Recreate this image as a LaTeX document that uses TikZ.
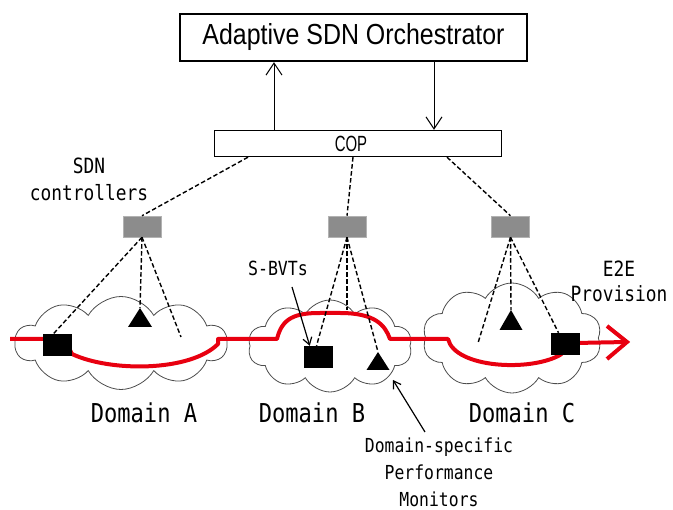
\documentclass[tikz,border=0pt]{standalone}
\usepackage{fontspec}
\usetikzlibrary{shapes.symbols,arrows.meta,calc}
\newfontfamily\gmono[FakeStretch=0.85]{DejaVu Sans Mono}
\newfontfamily\nsans[FakeStretch=0.86]{Liberation Sans}
\newfontfamily\csans[FakeStretch=0.68]{Liberation Sans}
\definecolor{e2ered}{RGB}{232,0,16}
\definecolor{ctrlgray}{RGB}{140,140,140}
\begin{document}
\begin{tikzpicture}[x=1pt,y=-1pt,
  cloudshape/.style={cloud, cloud puffs=10, cloud puff arc=120, cloud ignores aspect,
     draw=black!70, line width=0.8pt, fill=white, inner sep=0pt},
  ctrl/.style={draw=black!30, fill=ctrlgray, minimum width=38pt, minimum height=21pt, inner sep=0pt, line width=0.5pt},
  bvt/.style={fill=black, minimum width=29pt, minimum height=22pt, inner sep=0pt},
  ctlline/.style={draw=black, line width=1.4pt, dash pattern=on 4.5pt off 2.5pt},
  redline/.style={draw=e2ered, line width=4pt},
  arr/.style={-{Straight Barb[length=12pt,width=16pt]}, line width=1pt},
  smallarr/.style={-{Straight Barb[length=7pt,width=9pt]}, line width=1.2pt},
  monolbl/.style={align=center, inner sep=0pt}
]
\useasboundingbox (0,0) rectangle (673,510);

% clouds
\node[cloudshape, minimum width=212pt, minimum height=93pt] (cloudA) at (121,343) {};
\node[cloudshape, minimum width=164pt, minimum height=92pt] (cloudB) at (330,346) {};
\node[cloudshape, minimum width=179pt, minimum height=110pt] (cloudC) at (512,338) {};

% red E2E path
\coordinate (rstart) at (10,339);
\coordinate (rtip) at (627,342);
\draw[redline, line join=round]
  (rstart) -- (58,339) -- (70,350)
  -- (72,354) .. controls (110,372) and (190,372) .. (218,344) -- (218,339)
  -- (277,339) .. controls (282,318) and (295,313) .. (320,313)
  -- (340,313) .. controls (375,313) and (385,325) .. (390,339)
  -- (448,339) .. controls (455,368) and (530,372) .. (560,355)
  -- (575,343) -- (rtip);
\draw[redline, line join=miter] (607,326) -- (rtip) -- (607,359);

% S-BVTs (black squares)
\node[bvt] (sqA) at (57.5,345) {};
\node[bvt] (sqB) at (318.5,357) {};
\node[bvt] (sqC) at (565,344) {};

% performance monitors (triangles)
\fill (140,308) coordinate (triA) -- ++(12,19) -- ++(-24,0) -- cycle;
\fill (378,352) coordinate (triB) -- ++(11.5,18) -- ++(-23,0) -- cycle;
\fill (511,310) coordinate (triC) -- ++(11.5,20) -- ++(-23,0) -- cycle;

% orchestrator and COP
\node[draw, line width=2.4pt, minimum width=347pt, minimum height=47pt, inner sep=0pt,
  font=\nsans\fontsize{29}{29}\selectfont] (orch) at (353.5,37.5) {Adaptive SDN Orchestrator};
\node[draw, line width=1.4pt, minimum width=287pt, minimum height=26pt, inner sep=0pt] (cop) at (358,143.5) {};
\node[inner sep=0pt, font=\csans\fontsize{22}{22}\selectfont] (coptxt) at ($(cop.center)+(-7,0)$) {COP};

\coordinate (upx) at (274,0);
\coordinate (dnx) at (434,0);
\draw[arr] (cop.north -| upx) -- (orch.south -| upx);
\draw[arr] (orch.south -| dnx) -- (cop.north -| dnx);

% SDN controllers
\node[ctrl] (ctrlA) at (142,226.5) {};
\node[ctrl] (ctrlB) at (347,226.5) {};
\node[ctrl] (ctrlC) at (510.5,226.5) {};

\coordinate (cA) at (248,0);
\coordinate (cB) at (353,0);
\coordinate (cC) at (447,0);
\draw[ctlline] (cop.south -| cA) -- (ctrlA.north);
\draw[ctlline] (cop.south -| cB) -- (ctrlB.north);
\draw[ctlline] (cop.south -| cC) -- (ctrlC.north);

% controller to devices
\coordinate (endA) at (181,337);
\coordinate (endB) at (347,310);
\coordinate (endC) at (478,343);
\draw[ctlline] (ctrlA.south) -- (sqA.110);
\draw[ctlline] (ctrlA.south) -- (triA);
\draw[ctlline] (ctrlA.south) -- (endA);
\draw[ctlline] (ctrlB.south) -- (sqB.100);
\draw[ctlline] (ctrlB.south) -- (endB);
\draw[ctlline] (ctrlB.south) -- (triB);
\draw[ctlline] (ctrlC.south) -- (endC);
\draw[ctlline] (ctrlC.south) -- (triC);
\draw[ctlline] (ctrlC.south) -- (sqC.120);

% labels
\node[monolbl, font=\gmono\fontsize{21}{27}\selectfont] (sdnlbl) at (89,179) {SDN\\controllers};
\node[monolbl, font=\gmono\fontsize{19.5}{20}\selectfont] (sbvt) at (278,268) {S-BVTs};
\node[monolbl, font=\gmono\fontsize{21}{25}\selectfont] (e2e) at (619,281) {E2E\\Provision};
\node[monolbl, font=\gmono\fontsize{26}{26}\selectfont] (domA) at (144,413) {Domain A};
\node[monolbl, font=\gmono\fontsize{26}{26}\selectfont] (domB) at (312,413) {Domain B};
\node[monolbl, font=\gmono\fontsize{26}{26}\selectfont] (domC) at (522,413) {Domain C};
\node[monolbl, font=\gmono\fontsize{19.3}{27}\selectfont] (dsp) at (439,472) {Domain-specific\\Performance\\Monitors};

% pointer arrows
\coordinate (sbS) at (292,287);
\coordinate (dsS) at (425,432);
\coordinate (dsE) at (393,380);
\draw[smallarr] (sbS) -- (sqB.128);
\draw[smallarr] (dsS) -- (dsE);
\end{tikzpicture}
\end{document}
